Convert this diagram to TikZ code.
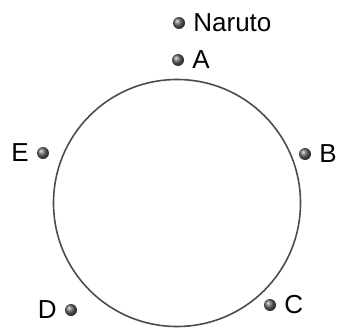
\documentclass[tikz,border=0pt]{standalone}
\usepackage{fontspec}
\setmainfont{Liberation Sans}
\usetikzlibrary{positioning}

\begin{document}
\begin{tikzpicture}[
    x=1pt, y=-1pt,
    node distance=8pt,
    pt/.style={circle, inner sep=0pt, minimum size=12pt, shading=ball, ball color=black!60},
    lbl/.style={inner sep=0pt, font=\fontsize{26}{31}\selectfont},
]
\useasboundingbox (0,0) rectangle (339,329);

% Ring
\coordinate (ctr) at (177,203);
\draw[line width=1.6pt, black!70] (ctr) circle[radius=123.5pt];

% Points
\node[pt] (naruto) at (179,23) {};
\node[pt] (a) at (178,60) {};
\node[pt] (b) at (305,154) {};
\node[pt] (c) at (270,305) {};
\node[pt] (d) at (71,310) {};
\node[pt] (e) at (43,153) {};

% Labels
\node[lbl, right=of naruto] (narutolbl) {Naruto};
\node[lbl, right=of a] (albl) {A};
\node[lbl, right=of b] (blbl) {B};
\node[lbl, right=of c] (clbl) {C};
\node[lbl, left=of d] (dlbl) {D};
\node[lbl, left=of e] (elbl) {E};

\end{tikzpicture}
\end{document}
